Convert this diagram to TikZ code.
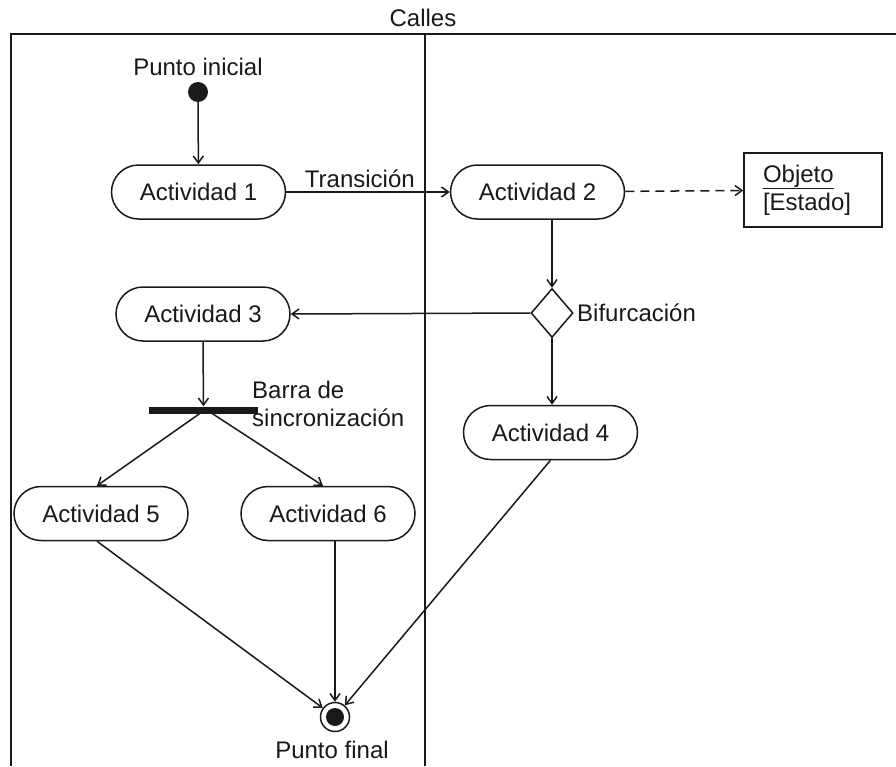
\documentclass[tikz,border=0pt]{standalone}
\usepackage{fontspec}
\setmainfont{Liberation Sans}
\usetikzlibrary{arrows.meta,shapes.geometric,calc}

\tikzset{
  act/.style={draw, line width=1.5pt, rounded corners=27pt, minimum width=174pt,
    minimum height=54pt, inner sep=0pt, fill=white},
  flow/.style={line width=1.5pt, -{Straight Barb[length=7pt,width=10pt]}},
  lane/.style={line width=1.8pt},
  lbl/.style={inner sep=0pt}
}

\begin{document}
\begin{tikzpicture}[x=1pt, y=-1pt, font=\fontsize{24}{28}\selectfont, color=black!90]
  \useasboundingbox (0,0) rectangle (896,766);

  % swimlane frame
  \node[lbl] (calles) at (423,18) {Calles};
  \draw[lane] (11,766) -- (11,34) -- (896,34);
  \draw[lane] (425,34) -- (425,766);

  % start
  \node[lbl] (inicioT) at (198,67) {Punto inicial};
  \node[circle, fill, minimum size=20pt, inner sep=0pt] (ini) at (198,92) {};

  % activities
  \node[act] (a1) at (198.5,192) {Actividad 1};
  \node[act] (a2) at (537.5,192) {Actividad 2};
  \node[act] (a3) at (203,314) {Actividad 3};
  \node[act] (a4) at (550.5,432.5) {Actividad 4};
  \node[act] (a5) at (101,513.5) {Actividad 5};
  \node[act] (a6) at (328,513.5) {Actividad 6};

  % object
  \node[draw, line width=1.5pt, minimum height=74pt, text width=100pt,
        inner xsep=19pt, inner ysep=0pt, align=left] (obj) at (813,190)
        {\underline{Objeto}\\{[Estado]}};

  % decision
  \node[diamond, draw, line width=1.5pt, minimum width=42pt, minimum height=49pt,
        inner sep=0pt, fill=white] (dia) at (552,313) {};
  \node[lbl, anchor=west] (bifT) at (577,313) {Bifurcación};

  % synchronisation bar
  \node[fill, minimum width=109pt, minimum height=7pt, inner sep=0pt] (bar) at (203.5,410) {};
  \node[lbl, anchor=north west, align=left] (barT) at (252,381) {Barra de\\sincronización};

  % end
  \node[circle, draw, line width=1.5pt, minimum size=29pt, inner sep=0pt] (fin) at (335,717) {};
  \fill (fin.center) circle (9pt);
  \node[lbl] (finT) at (332,750) {Punto final};

  % transitions
  \draw[flow] (ini) -- (a1);
  \draw[flow] (a1) -- node[above, inner sep=4pt, pos=0.45] (trT) {Transición} (a2);
  \draw[flow, dash pattern=on 9pt off 6pt] (a2) -- (obj);
  \draw[flow] (dia.north |- a2.south) -- (dia.north);
  \draw[flow] (dia.west) -- (a3.east);
  \draw[flow] (dia.south) -- (dia.south |- a4.north);
  \draw[flow] (a3.south) -- (bar.north);
  \draw[flow] ($(bar.south)+(-4,0)$) -- ($(a5.north)+(-4,0)$);
  \draw[flow] ($(bar.south)+(9,0)$) -- ($(a6.north)+(-5,0)$);
  \draw[flow] ($(a5.south)+(-4,0)$) -- (fin);
  \draw[flow] (fin.north |- a6.south) -- (fin.north);
  \draw[flow] (a4.south) -- (fin);
\end{tikzpicture}
\end{document}
